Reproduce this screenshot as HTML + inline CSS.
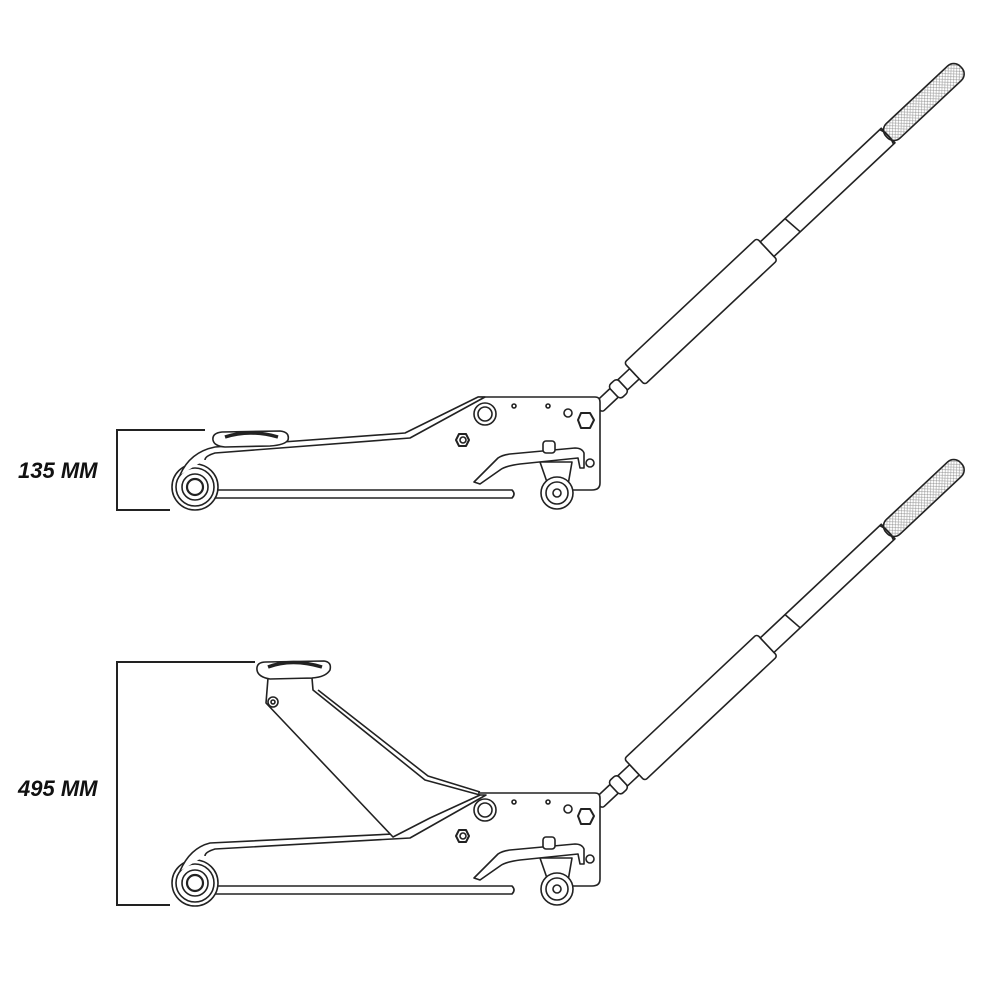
<!DOCTYPE html>
<html><head><style>
html,body{margin:0;padding:0;background:#fff;}
svg{display:block}
text{font-family:"Liberation Sans",sans-serif;font-weight:bold;font-style:italic;font-size:22px;fill:#111}
</style></head><body>
<svg width="1000" height="1000" viewBox="0 0 1000 1000" xmlns="http://www.w3.org/2000/svg">
<defs>
<pattern id="hatch" width="4" height="4" patternUnits="userSpaceOnUse">
<path d="M0 0L4 4M4 0L0 4" stroke="#999" stroke-width="0.6"/>
</pattern>
<g id="base" fill="#fff" stroke="#222" stroke-width="1.6" stroke-linejoin="round">
  <g transform="translate(598,408) rotate(-43.2)">
    <rect x="0" y="-6" width="24" height="12" rx="3"/>
    <rect x="22" y="-9" width="12" height="18" rx="4"/>
    <rect x="34" y="-7" width="16" height="14"/>
    <rect x="50" y="-15" width="182" height="30" rx="3"/>
    <rect x="232" y="-10" width="166" height="20"/>
    <line x1="266" y1="-10" x2="268" y2="10"/>
    <rect x="396" y="-10" width="102" height="20" rx="9" fill="url(#hatch)"/>
    <path d="M396 -10 Q400 0 396 10" fill="none"/>
  </g>
  <path d="M478 397 L595 397 Q600 397 600 402 L600 483 Q600 490 592 490 L572 490"/>
  <path d="M215 490 L512 490 Q516 494 512 498 L215 498"/>
  <circle cx="195" cy="487" r="23"/>
  <circle cx="195" cy="487" r="19"/>
  <circle cx="195" cy="487" r="13"/>
  <circle cx="195" cy="487" r="8" stroke-width="2.2"/>
  <circle cx="485" cy="414" r="11"/>
  <circle cx="485" cy="414" r="7"/>
  <polygon points="456,440 459,434 466,434 469,440 466,446 459,446" stroke-width="2"/>
  <circle cx="463" cy="440" r="3"/>
  <circle cx="514" cy="406" r="2"/>
  <circle cx="548" cy="406" r="2"/>
  <circle cx="568" cy="413" r="4"/>
  <polygon points="578,420 581,413 590,413 594,420 590,428 581,428" stroke-width="2"/>
  <circle cx="590" cy="463" r="4"/>
  <path d="M540 462 L548 485 L568 485 L572 462 Z"/>
  <circle cx="557" cy="493" r="16"/>
  <circle cx="557" cy="493" r="11"/>
  <circle cx="557" cy="493" r="4"/>
  <path d="M474 482 L498 458 Q502 455 510 454 L575 448 Q582 448 584 453 L584 468 L580 468 L578 458 L520 464 Q505 466 500 470 L480 484 Z"/>
  <rect x="543" y="441" width="12" height="12" rx="3"/>
</g>
</defs>

<use href="#base"/>
<g fill="#fff" stroke="#222" stroke-width="1.6" stroke-linejoin="round">
  <path d="M180 475 Q190 452 215 447 L405 433 L478 397 L485 397 L410 438 L215 453 Q205 456 205 460"/>
  <path d="M213 440 Q212 433 222 432 L280 431 Q290 432 288 440 Q285 445 270 446 L225 447 Q214 446 213 440 Z"/>
  <path d="M225 437 Q250 429 278 437" stroke-width="3.5" fill="none"/>
</g>

<g transform="translate(0,396)"><use href="#base"/></g>
<g fill="#fff" stroke="#222" stroke-width="1.6" stroke-linejoin="round">
  <path d="M180 871 Q190 848 210 843 L393 834 L480 795 L486 795 L410 838 L215 849 Q205 852 205 856"/>
  <path d="M266 703 L268 678 L312 678 L313 690 L425 780 L480 795 L430 818 L393 837 Z"/>
  <path d="M318 690 L428 776 L480 792" fill="none"/>
  <circle cx="273" cy="702" r="5"/>
  <circle cx="273" cy="702" r="2"/>
  <path d="M257 670 Q256 662 266 662 L324 661 Q332 662 330 670 Q326 677 312 678 L270 679 Q258 677 257 670 Z"/>
  <path d="M268 667 Q292 658 322 667" stroke-width="3.5" fill="none"/>
</g>

<g fill="none" stroke="#222" stroke-width="2">
  <path d="M205 430 L117 430 L117 510 L170 510"/>
  <path d="M255 662 L117 662 L117 905 L170 905"/>
</g>
<text x="18" y="478">135 MM</text>
<text x="18" y="796">495 MM</text>
</svg>
</body></html>
